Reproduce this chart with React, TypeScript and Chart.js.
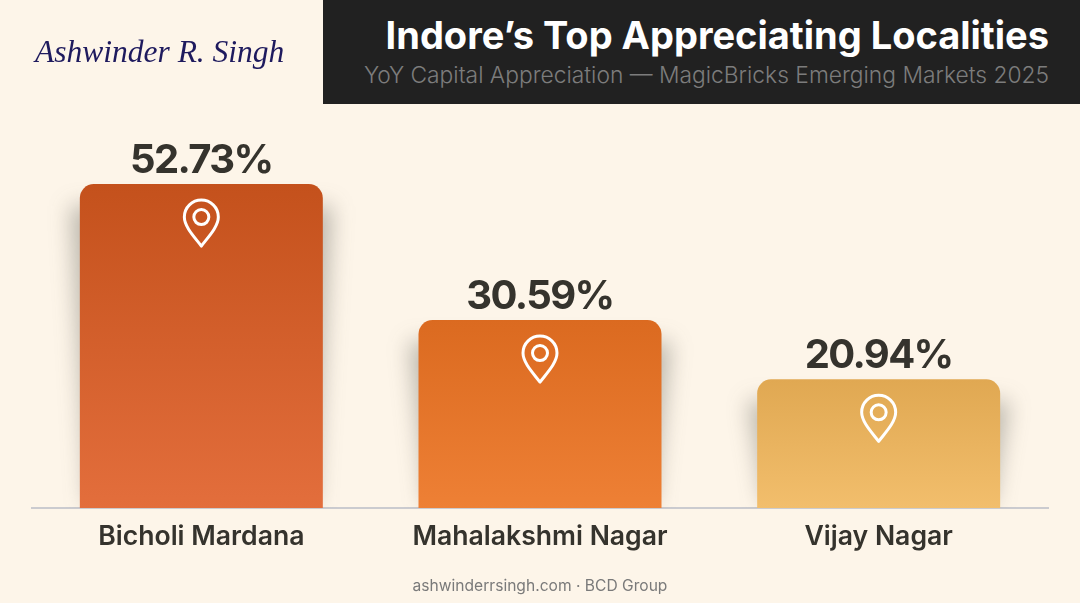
import { useEffect, useRef } from 'react'
import { Chart, registerables } from 'chart.js'
import type { Plugin } from 'chart.js'

Chart.register(...registerables)

const categories = ['Bicholi Mardana', 'Mahalakshmi Nagar', 'Vijay Nagar']
const appreciation = [52.73, 30.59, 20.94]
const topColors = ['#C4511C', '#DB6A20', '#E0A852']
const bottomColors = ['#E36E3C', '#EE8035', '#F2BE6C']
const INK = '#35332D'

// soft shadow behind each bar: wide near the top, gone by the baseline
const barShadow: Plugin<'bar'> = {
  id: 'barShadow',
  beforeDatasetsDraw(chart) {
    const { ctx, chartArea } = chart
    ctx.save()
    ctx.beginPath()
    ctx.rect(0, 0, chart.width, chartArea.bottom)
    ctx.clip()
    ctx.filter = 'blur(11px)'
    ctx.fillStyle = 'rgba(70,70,60,0.36)'
    chart.getDatasetMeta(0).data.forEach((bar) => {
      const { x, y, base, width } = bar.getProps(['x', 'y', 'base', 'width'], true)
      const half = width / 2
      ctx.beginPath()
      ctx.moveTo(x - half - 9, y + 22)
      ctx.lineTo(x + half + 9, y + 22)
      ctx.lineTo(x + half - 8, base - 4)
      ctx.lineTo(x - half + 8, base - 4)
      ctx.closePath()
      ctx.fill()
    })
    ctx.restore()
  },
}

// value labels above the bars and the pin icon inside them
const barDecor: Plugin<'bar'> = {
  id: 'barDecor',
  afterDatasetsDraw(chart) {
    const { ctx } = chart
    chart.getDatasetMeta(0).data.forEach((bar, i) => {
      const { x, y } = bar.getProps(['x', 'y'], true)
      ctx.save()
      ctx.font = "700 40px Inter"
      ctx.letterSpacing = '-1.6px'
      ctx.fillStyle = INK
      ctx.textAlign = 'center'
      ctx.textBaseline = 'alphabetic'
      ctx.fillText(`${appreciation[i].toFixed(2)}%`, x, y - 11)

      ctx.translate(x, y + 34)
      ctx.strokeStyle = '#FFFFFF'
      ctx.lineWidth = 3
      ctx.lineJoin = 'round'
      ctx.beginPath()
      ctx.moveTo(0, 28)
      ctx.bezierCurveTo(-6, 20, -17, 9, -17, -1)
      ctx.bezierCurveTo(-17, -11, -9, -18, 0, -18)
      ctx.bezierCurveTo(9, -18, 17, -11, 17, -1)
      ctx.bezierCurveTo(17, 9, 6, 20, 0, 28)
      ctx.closePath()
      ctx.stroke()
      ctx.beginPath()
      ctx.arc(0, -1, 7.5, 0, Math.PI * 2)
      ctx.stroke()
      ctx.restore()
    })
  },
}

export default function App() {
  const canvasRef = useRef<HTMLCanvasElement>(null)

  useEffect(() => {
    document.body.style.margin = '0'
    document.body.style.background = '#FDF5E9'
    const canvas = canvasRef.current
    if (!canvas) return
    const chart = new Chart(canvas, {
      type: 'bar',
      data: {
        labels: categories,
        datasets: [{
          data: appreciation,
          barPercentage: 0.7175,
          categoryPercentage: 1,
          borderRadius: { topLeft: 14, topRight: 14, bottomLeft: 0, bottomRight: 0 },
          borderSkipped: false,
          backgroundColor: (c: any) => {
            if (c.dataIndex === undefined) return topColors[0]
            const top = c.chart.scales.y.getPixelForValue(appreciation[c.dataIndex])
            const bottom = c.chart.scales.y.getPixelForValue(0)
            // scale has no size yet on the first pass
            if (!Number.isFinite(top) || !Number.isFinite(bottom)) return topColors[c.dataIndex]
            const g = c.chart.ctx.createLinearGradient(0, top, 0, bottom)
            g.addColorStop(0, topColors[c.dataIndex])
            g.addColorStop(1, bottomColors[c.dataIndex])
            return g
          },
        }],
      },
      options: {
        responsive: false,
        animation: false,
        layout: { padding: { left: 32, right: 32, top: 139.4, bottom: 0 } },
        scales: {
          x: {
            afterFit: (scale: any) => { scale.height = 95 },
            grid: { display: false },
            border: { color: '#CBCBCF', width: 2 },
            ticks: {
              color: INK,
              padding: 5,
              maxRotation: 0,
              font: { family: 'Inter', size: 26.6, weight: 600 },
            },
          },
          y: { display: false, min: 0, max: 60 },
        },
        plugins: {
          legend: { display: false },
          tooltip: { enabled: false },
        },
      },
      plugins: [barShadow, barDecor],
    })
    return () => { chart.destroy() }
  }, [])

  return (
    <div style={{ position: 'relative', width: 1080, height: 603, overflow: 'hidden', fontFamily: 'Inter, sans-serif' }}>
      <canvas ref={canvasRef} width={1080} height={603} style={{ display: 'block' }} />
      <div style={{ position: 'absolute', left: 323, top: 0, right: 0, height: 104, background: '#212121' }} />
      <div style={{ position: 'absolute', right: 31, top: 13, color: '#FFFFFF', fontSize: 38, fontWeight: 700, lineHeight: '45px', whiteSpace: 'nowrap' }}>
        Indore’s Top Appreciating Localities
      </div>
      <div style={{ position: 'absolute', right: 31, top: 60, color: '#7C7C7C', fontSize: 22.8, fontWeight: 300, lineHeight: '30px', whiteSpace: 'nowrap' }}>
        YoY Capital Appreciation — MagicBricks Emerging Markets 2025
      </div>
      <div style={{ position: 'absolute', left: 35, top: 30, color: '#1E1A5E', fontFamily: '"Liberation Serif", serif', fontStyle: 'italic', fontSize: 31.5, lineHeight: '44px', whiteSpace: 'nowrap' }}>
        Ashwinder R. Singh
      </div>
      <div style={{ position: 'absolute', left: 0, right: 0, top: 576, textAlign: 'center', color: '#7A7A7A', fontSize: 15.6, lineHeight: '20px' }}>
        ashwinderrsingh.com · BCD Group
      </div>
    </div>
  )
}
